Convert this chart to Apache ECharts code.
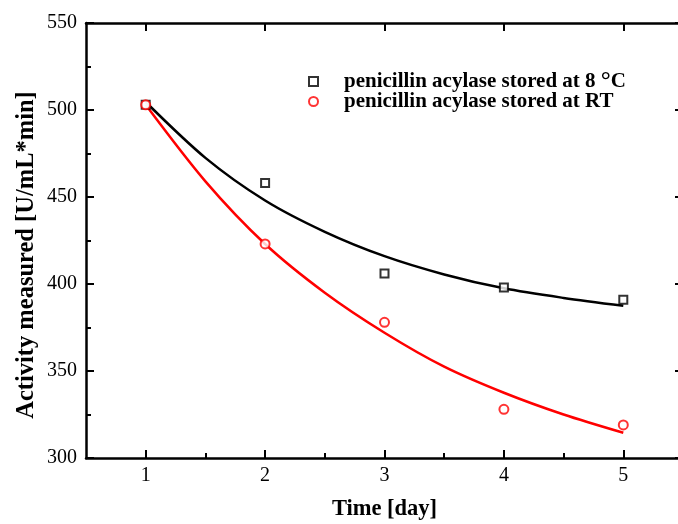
<!DOCTYPE html>
<html>
<head>
<meta charset="utf-8">
<script src="https://cdn.jsdelivr.net/npm/echarts@6/dist/echarts.min.js"></script>
<style>html,body{margin:0;padding:0;background:#fff}#c{width:678px;height:524px}</style>
</head>
<body>
<div id="c"></div>
<script>
// ---- data ----
var days = [1, 2, 3, 4, 5];
var activity8C = [503, 458, 406, 398, 391];
var activityRT = [503, 423, 378, 328, 319];
// fitted decay curves
var fitDays = [1, 1.5, 2, 2.5, 3, 3.5, 4, 4.5, 5];
var fit8C = [504.6, 472.5, 448, 430, 416, 405.5, 397.5, 392, 387.5];
var fitRT = [503, 459, 423, 395, 372, 352.5, 337.5, 325, 314.5];
var xMajorTicks = [1, 2, 3, 4, 5];
var xMinorTicks = [1.5, 2.5, 3.5, 4.5];
var name8C = 'penicillin acylase stored at 8 \u00b0C';
var nameRT = 'penicillin acylase stored at RT';

function pairs(xs, ys) { return xs.map(function (x, i) { return [x, ys[i]]; }); }

var FONT = 'Liberation Serif';
var chart = echarts.init(document.getElementById('c'), null, {renderer: 'canvas'});
var gridRect = {left: 86, top: 23, width: 597, height: 435, outerBoundsMode: 'none', containLabel: false};
var axisLineStyle = {color: '#000', width: 2.5};

chart.setOption({
  animation: false,
  backgroundColor: '#fff',
  grid: [Object.assign({}, gridRect), Object.assign({}, gridRect)],
  xAxis: [
    {
      type: 'value', gridIndex: 0, position: 'bottom', min: 0.5, max: 5.5,
      axisLine: {show: true, lineStyle: axisLineStyle},
      axisTick: {show: true, inside: true, length: 8, lineStyle: {width: 2, color: '#000'}, customValues: xMajorTicks},
      axisLabel: {show: true, customValues: xMajorTicks, fontFamily: FONT, fontSize: 20, color: '#000', margin: 8},
      splitLine: {show: false},
      name: 'Time [day]', nameLocation: 'middle', nameGap: 40,
      nameTextStyle: {fontFamily: FONT, fontSize: 22.5, fontWeight: 'bold', color: '#000'}
    },
    {
      type: 'value', gridIndex: 0, position: 'top', min: 0.5, max: 5.5,
      axisLine: {show: true, lineStyle: axisLineStyle},
      axisTick: {show: true, inside: true, length: 8, lineStyle: {width: 2, color: '#000'}, customValues: xMajorTicks},
      axisLabel: {show: false},
      splitLine: {show: false}
    },
    {
      type: 'value', gridIndex: 1, position: 'bottom', min: 0.5, max: 5.5,
      axisLine: {show: false},
      axisTick: {show: true, inside: true, length: 5, lineStyle: {width: 2, color: '#000'}, customValues: xMinorTicks},
      axisLabel: {show: false},
      splitLine: {show: false}
    }
  ],
  yAxis: [
    {
      type: 'value', gridIndex: 0, position: 'left', min: 300, max: 550, interval: 50,
      axisLine: {show: true, lineStyle: axisLineStyle},
      axisTick: {show: true, inside: true, length: 8, lineStyle: {width: 2, color: '#000'}},
      minorTick: {show: true, splitNumber: 2, length: 5, lineStyle: {width: 2, color: '#000'}},
      axisLabel: {fontFamily: FONT, fontSize: 20, color: '#000', margin: 9},
      splitLine: {show: false}, minorSplitLine: {show: false}
    },
    {
      type: 'value', gridIndex: 0, position: 'right', min: 300, max: 550, interval: 50,
      axisLine: {show: true, lineStyle: axisLineStyle},
      axisTick: {show: true, inside: true, length: 8, lineStyle: {width: 2, color: '#000'}},
      axisLabel: {show: false},
      splitLine: {show: false}
    },
    {
      type: 'value', gridIndex: 1, min: 300, max: 550, interval: 50, show: false
    }
  ],
  legend: {
    orient: 'vertical', left: 308, top: 69, padding: 0, itemGap: -3,
    itemWidth: 9, itemHeight: 9,
    data: [name8C, nameRT],
    formatter: function (n) {
      if (n === name8C) return '{b|penicillin acylase stored at 8 }{d|\u00b0}{b|C}';
      return '{b|' + n + '}';
    },
    textStyle: {
      fontFamily: FONT, fontSize: 21, fontWeight: 'bold', color: '#000', padding: [0, 0, 0, 21],
      rich: {
        b: {fontFamily: FONT, fontSize: 21, fontWeight: 'bold', color: '#000', lineHeight: 20},
        d: {fontFamily: FONT, fontSize: 25, fontWeight: 'bold', color: '#000', lineHeight: 20}
      }
    }
  },
  graphic: [{
    type: 'text', x: 27, y: 255,
    rotation: Math.PI / 2,
    style: {text: 'Activity measured [U/mL*min]', fontFamily: FONT, fontSize: 24.5, fontWeight: 'bold', fill: '#000', align: 'center', verticalAlign: 'middle'}
  }],
  series: [
    {
      name: 'fit 8C', type: 'line', xAxisIndex: 0, yAxisIndex: 0, data: pairs(fitDays, fit8C),
      smooth: 0.3, showSymbol: false, symbol: 'none', lineStyle: {color: '#000', width: 2.5}, z: 2
    },
    {
      name: 'fit RT', type: 'line', xAxisIndex: 0, yAxisIndex: 0, data: pairs(fitDays, fitRT),
      smooth: 0.3, showSymbol: false, symbol: 'none', lineStyle: {color: '#ff0000', width: 2.5}, z: 2
    },
    {
      name: name8C, type: 'scatter', xAxisIndex: 0, yAxisIndex: 0, data: pairs(days, activity8C),
      symbol: 'emptyRect', symbolSize: 8, itemStyle: {color: '#000', borderColor: '#000', borderWidth: 1.5}, z: 3
    },
    {
      name: nameRT, type: 'scatter', xAxisIndex: 0, yAxisIndex: 0, data: pairs(days, activityRT),
      symbol: 'emptyCircle', symbolSize: 9, itemStyle: {color: '#ff0000', borderColor: '#ff0000', borderWidth: 1.5}, z: 3
    }
  ]
});
</script>
</body>
</html>
